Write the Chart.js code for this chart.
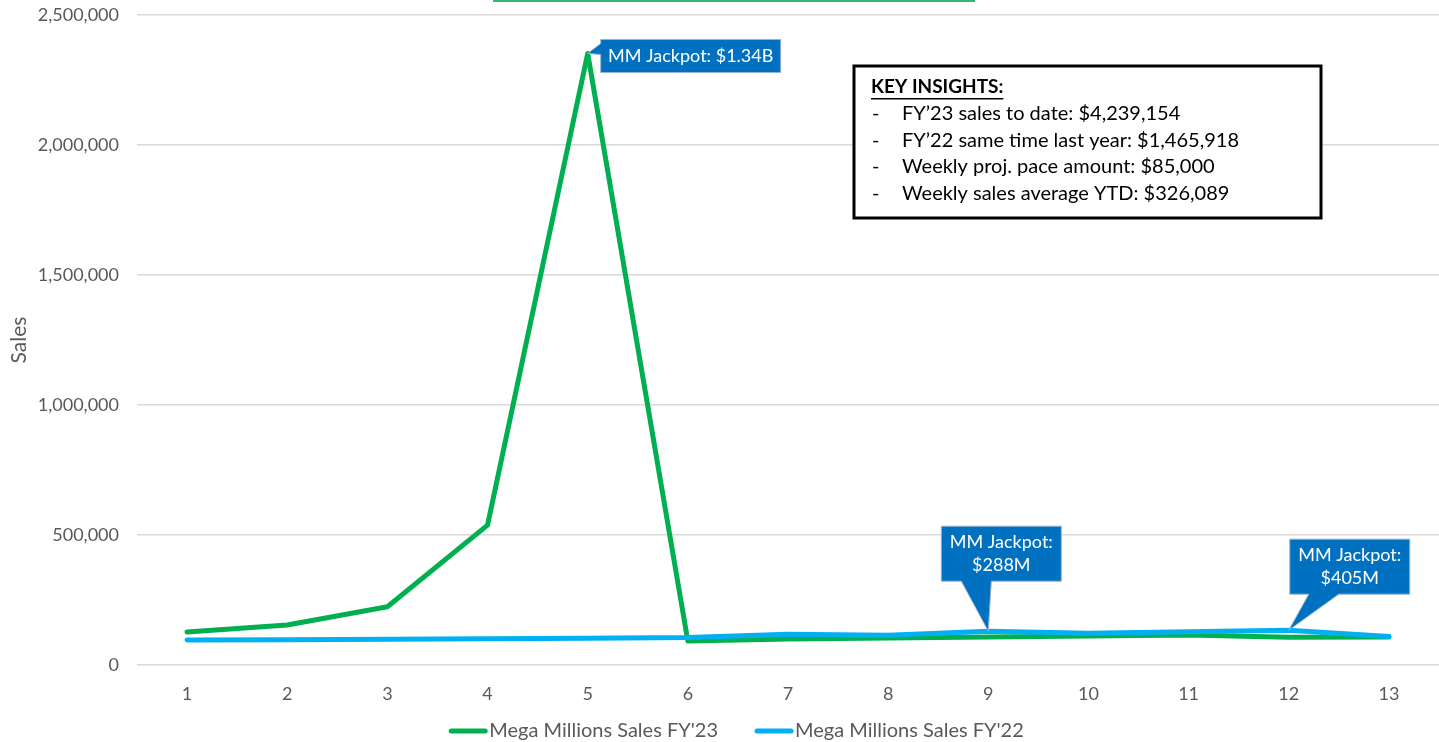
<!DOCTYPE html>
<html>
<head>
<meta charset="utf-8">
<script src="https://cdn.jsdelivr.net/npm/chart.js@4/dist/chart.umd.min.js"></script>
<style>
  html, body { margin:0; padding:0; background:#fff; }
  #chart { display:block; }
</style>
</head>
<body>
<canvas id="chart" width="1439" height="742"></canvas>
<script>
  // ===== Data =====
  const weeks = ['1','2','3','4','5','6','7','8','9','10','11','12','13'];
  const salesFY23 = [127000, 154000, 224000, 538000, 2352000, 92000, 100000, 104000, 108000, 112000, 115000, 107000, 108000];
  const salesFY22 = [96000, 97000, 99000, 101000, 103000, 106000, 118000, 114000, 130000, 122000, 128000, 134000, 110000];
  const yTicks = [0, 500000, 1000000, 1500000, 2000000, 2500000];

  const insightTitle = 'KEY INSIGHTS:';
  const insightLines = [
    'FY\u201923 sales to date: $4,239,154',
    'FY\u201922 same time last year: $1,465,918',
    'Weekly proj. pace amount: $85,000',
    'Weekly sales average YTD: $326,089'
  ];
  // callouts: which series / which week, text lines
  const callouts = [
    { ds: 0, idx: 4, lines: ['MM Jackpot: $1.34B'] },
    { ds: 1, idx: 8, lines: ['MM Jackpot:', '$288M'] },
    { ds: 1, idx: 11, lines: ['MM Jackpot:', '$405M'] }
  ];

  const FONT = 'Lato, "Open Sans", sans-serif';
  const GREY = '#595959';
  const GREEN = '#00B050';
  const BLUE = '#00B0F0';
  const BOXBLUE = '#0070C0';

  // ===== Overlay (legend, callouts, insights box, title frame edge) =====
  const overlay = {
    id: 'overlay',
    afterDraw(chart){
      const ctx = chart.ctx;
      ctx.save();

      // bit of a title frame cut off at the top
      ctx.strokeStyle = '#3CB371';
      ctx.lineWidth = 2;
      ctx.strokeRect(494, -30, 480, 31);

      // legend (series order, line sample glued to the text)
      ctx.font = '20px ' + FONT;
      ctx.textAlign = 'left';
      ctx.textBaseline = 'middle';
      const ds = chart.data.datasets;
      const widths = ds.map(d => 38 + 3 + ctx.measureText(d.label).width);
      const gap = 36;
      let lx = 737 - (widths.reduce((a, b) => a + b, 0) + gap * (ds.length - 1)) / 2;
      const ly = 731;
      ds.forEach((d, i) => {
        ctx.strokeStyle = d.borderColor;
        ctx.lineWidth = 5;
        ctx.lineCap = 'round';
        ctx.beginPath(); ctx.moveTo(lx + 2, ly); ctx.lineTo(lx + 36, ly); ctx.stroke();
        ctx.fillStyle = GREY;
        ctx.fillText(d.label, lx + 40, ly);
        lx += widths[i] + gap;
      });
      ctx.lineCap = 'butt';

      // callouts
      callouts.forEach((c, n) => {
        const pt = chart.getDatasetMeta(c.ds).data[c.idx];
        const tx = pt.x, ty = pt.y;
        let bx, by, bw, bh, tail;
        if (n === 0) {
          bx = tx + 13; by = ty - 14; bw = 180; bh = 33;
          tail = [[tx, ty], [bx, by + 4], [bx, by + 15]];
        } else if (n === 1) {
          bx = tx - 47; by = ty - 105; bw = 120; bh = 55;
          tail = [[tx, ty], [bx + 20, by + bh], [bx + 50, by + bh]];
        } else {
          bx = tx + 1; by = ty - 91; bw = 120; bh = 55;
          tail = [[tx, ty], [bx + 19, by + bh], [bx + 49, by + bh]];
        }
        ctx.fillStyle = BOXBLUE;
        ctx.strokeStyle = '#9DB3CF';
        ctx.lineWidth = 1;
        ctx.beginPath();
        ctx.moveTo(bx, by);
        ctx.lineTo(bx + bw, by);
        ctx.lineTo(bx + bw, by + bh);
        if (n === 0) {
          ctx.lineTo(bx, by + bh);
          ctx.lineTo(tail[2][0], tail[2][1]);
          ctx.lineTo(tail[0][0], tail[0][1]);
          ctx.lineTo(tail[1][0], tail[1][1]);
        } else {
          ctx.lineTo(tail[2][0], tail[2][1]);
          ctx.lineTo(tail[0][0], tail[0][1]);
          ctx.lineTo(tail[1][0], tail[1][1]);
          ctx.lineTo(bx, by + bh);
        }
        ctx.closePath();
        ctx.fill();
        ctx.stroke();

        ctx.fillStyle = '#fff';
        ctx.font = '18px ' + FONT;
        ctx.textAlign = 'center';
        ctx.textBaseline = 'middle';
        const lh = 23;
        const cy = by + bh / 2 - (c.lines.length - 1) * lh / 2;
        c.lines.forEach((t, i) => ctx.fillText(t, bx + bw / 2, cy + i * lh));
      });

      // key insights box
      const kx = 854, ky = 66, kw = 467, kh = 152;
      ctx.fillStyle = '#fff';
      ctx.fillRect(kx, ky, kw, kh);
      ctx.strokeStyle = '#000';
      ctx.lineWidth = 3;
      ctx.strokeRect(kx, ky, kw, kh);

      ctx.fillStyle = '#000';
      ctx.textAlign = 'left';
      ctx.textBaseline = 'middle';
      ctx.font = 'bold 19px ' + FONT;
      ctx.fillText(insightTitle, 871, 87);
      const tw = ctx.measureText(insightTitle).width;
      ctx.fillRect(871, 98, tw, 1.5);

      ctx.font = '20px ' + FONT;
      insightLines.forEach((t, i) => {
        const y = 114 + i * 26.5;
        ctx.fillText('-', 872, y);
        ctx.fillText(t, 902, y);
      });

      ctx.restore();
    }
  };

  const chart = new Chart(document.getElementById('chart'), {
    type: 'line',
    data: {
      labels: weeks,
      datasets: [
        { label: "Mega Millions Sales FY'23", data: salesFY23, borderColor: GREEN, backgroundColor: GREEN,
          borderWidth: 5, pointRadius: 0, tension: 0, borderJoinStyle: 'round', borderCapStyle: 'round', order: 1 },
        { label: "Mega Millions Sales FY'22", data: salesFY22, borderColor: BLUE, backgroundColor: BLUE,
          borderWidth: 5, pointRadius: 0, tension: 0, borderJoinStyle: 'round', borderCapStyle: 'round', order: 0 }
      ]
    },
    options: {
      responsive: false,
      animation: false,
      layout: { padding: { top: 15, right: 0, left: 0, bottom: 30 } },
      plugins: {
        legend: { display: false },
        tooltip: { enabled: false }
      },
      scales: {
        x: {
          offset: true,
          grid: { display: false },
          border: { display: false },
          ticks: { color: GREY, font: { family: FONT, size: 18 }, padding: 10, maxRotation: 0 },
          afterFit(s){ s.height = 47; s.paddingLeft = 0; s.paddingRight = 0; }
        },
        y: {
          min: 0, max: 2500000,
          afterBuildTicks(s){ s.ticks = yTicks.map(v => ({ value: v })); },
          grid: { color: '#D9D9D9', lineWidth: 1.5, drawTicks: false },
          border: { display: false },
          ticks: {
            color: GREY, font: { family: FONT, size: 18 }, padding: 18,
            callback: v => v.toLocaleString('en-US')
          },
          title: { display: true, text: 'Sales', color: GREY, font: { family: FONT, size: 21 }, padding: { top: 7, bottom: 0 } },
          afterFit(s){ s.width = 137; s.paddingTop = 0; s.paddingBottom = 0; }
        }
      }
    },
    plugins: [overlay]
  });
</script>
</body>
</html>
